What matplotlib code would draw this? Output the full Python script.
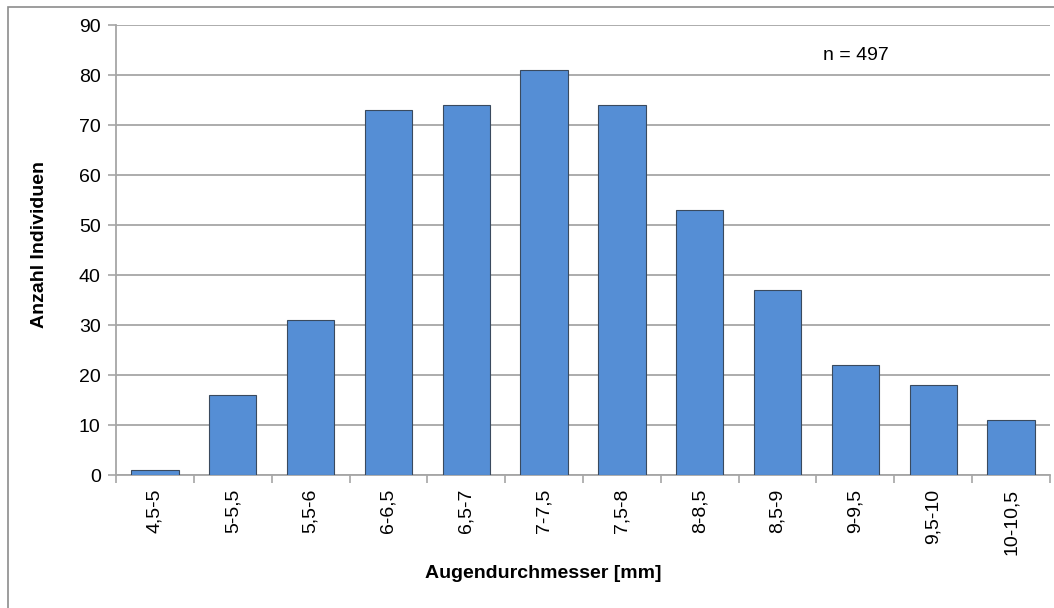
import matplotlib
matplotlib.use("Agg")
import matplotlib.pyplot as plt
from matplotlib.patches import Rectangle

categories = ["4,5-5", "5-5,5", "5,5-6", "6-6,5", "6,5-7", "7-7,5", "7,5-8",
              "8-8,5", "8,5-9", "9-9,5", "9,5-10", "10-10,5"]
counts = [1, 16, 31, 73, 74, 81, 74, 53, 37, 22, 18, 11]
y_ticks = [0, 10, 20, 30, 40, 50, 60, 70, 80, 90]
n_text = "n = 497"

plt.rcParams['font.family'] = ['Liberation Sans', 'DejaVu Sans']
FS = 14

W, H = 1054, 608
fig = plt.figure(figsize=(W/100, H/100), dpi=100)
ax = fig.add_axes([116/W, 1-475/H, (1050-116)/W, (475-25)/H])

x = list(range(len(categories)))
ax.bar(x, counts, width=0.61, color="#558ED5", edgecolor="#3A4A5E", linewidth=0.8, zorder=3)

ax.set_xlim(-0.5, len(categories)-0.5)
ax.set_ylim(0, 90)
ax.set_yticks(y_ticks)
ax.set_yticklabels([str(v) for v in y_ticks], fontsize=FS)
ax.yaxis.grid(True, color="#A6A6A6", linewidth=1.3, zorder=0)
ax.set_axisbelow(True)

ax.set_xticks([i-0.5 for i in range(len(categories)+1)], minor=False)
ax.set_xticklabels([])
ax.set_xticks(x, minor=True)
ax.set_xticklabels(categories, minor=True, rotation=90, fontsize=FS)
ax.tick_params(axis='x', which='minor', length=0, pad=10)
ax.tick_params(axis='x', which='major', length=6, color="#A6A6A6", width=1.2)
ax.tick_params(axis='y', length=6, color="#A6A6A6", width=1.2, pad=5)

for s in ['top', 'right']:
    ax.spines[s].set_visible(False)
for s in ['left', 'bottom']:
    ax.spines[s].set_color("#A6A6A6")
    ax.spines[s].set_linewidth(1.3)

ax.set_xlabel("Augendurchmesser [mm]", fontsize=FS, fontweight='bold', va='center')
ax.xaxis.set_label_coords((543.5-116)/934, (475-573)/450)
ax.set_ylabel("Anzahl Individuen", fontsize=FS, fontweight='bold', va='center')
ax.yaxis.set_label_coords((40-116)/934, (475-244)/450)

ax.text(9.0, 84, n_text, fontsize=FS, ha='center', va='center')

fig.patches.append(Rectangle((8/W, -0.01), 1.0, 1-7/H+0.01, transform=fig.transFigure,
                             fill=False, edgecolor="#8C8C8C", linewidth=1.2))

fig.savefig("out.png", dpi=100)
